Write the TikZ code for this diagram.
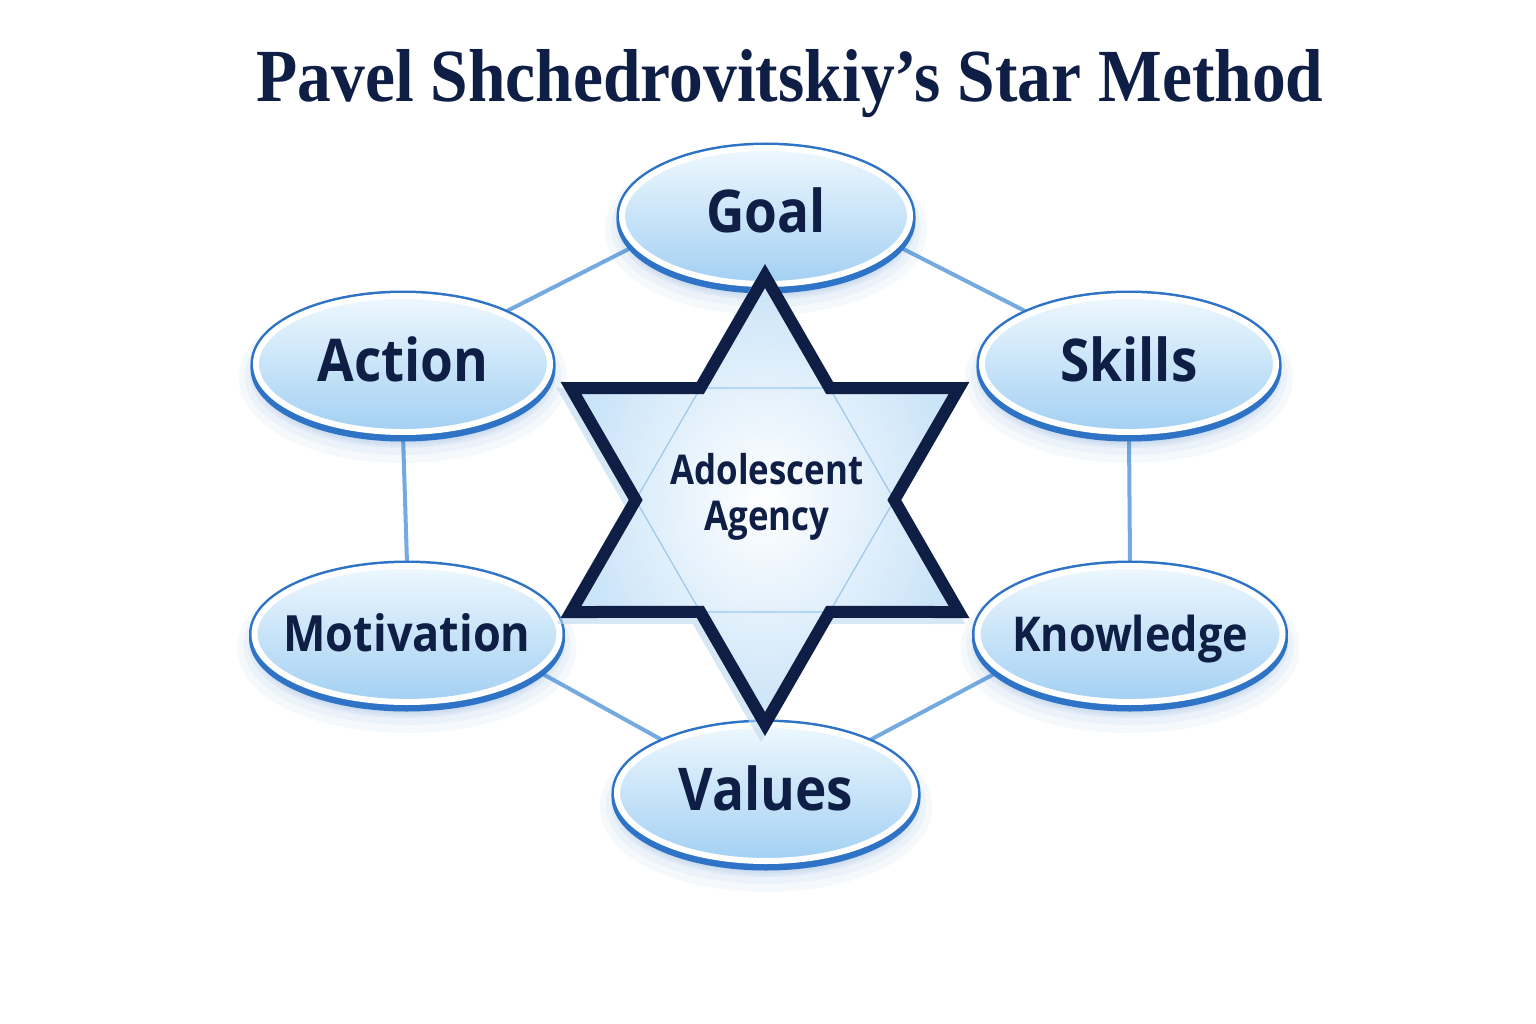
\documentclass[tikz,border=0pt]{standalone}
\usepackage{fontspec}
\setmainfont{Liberation Serif}
\newfontfamily\titlefont[FakeStretch=0.9]{Liberation Serif}
\newfontfamily\labelfont[FakeStretch=0.9]{Open Sans}
\newfontfamily\corefont[FakeStretch=0.85]{Open Sans}
\usetikzlibrary{shapes.geometric}

\definecolor{ink}{HTML}{0E1E45}
\definecolor{ringblue}{HTML}{2E73C6}
\definecolor{linkblue}{HTML}{74AADF}
\definecolor{ovaltop}{HTML}{EEF8FE}
\definecolor{ovalbottom}{HTML}{A3D0F3}
\definecolor{starfill}{HTML}{C9E3F8}
\definecolor{hexline}{HTML}{9CC8EE}
\definecolor{glow}{HTML}{BCD8F1}

\pgfdeclarelayer{back}
\pgfdeclarelayer{links}
\pgfsetlayers{back,links,main}

\tikzset{
  oval/.style={ellipse, inner sep=0pt, minimum height=136pt, text=ink,
    text height=46pt, text depth=12pt,
    font=\labelfont\bfseries\fontsize{59}{59}\selectfont,
    preaction={fill=ringblue, draw=ringblue, line width=34pt, opacity=0.04, transform canvas={yshift=-14pt}},
    preaction={fill=ringblue, draw=ringblue, line width=22pt, opacity=0.05, transform canvas={yshift=-12pt}},
    preaction={fill=ringblue, draw=ringblue, line width=12pt, opacity=0.06, transform canvas={yshift=-10pt}},
    preaction={fill=ringblue, draw=ringblue, line width=11pt, transform canvas={yshift=-4pt}},
    preaction={draw=ringblue, line width=11pt},
    draw=white, line width=6pt, top color=ovaltop, bottom color=ovalbottom},
  link/.style={draw=linkblue, line width=4pt},
  starline/.style={draw=ink, line width=12pt, line join=miter},
  title/.style={text=ink, anchor=base, font=\titlefont\bfseries\fontsize{75}{75}\selectfont},
  core/.style={text=ink, align=center, font=\corefont\bfseries\fontsize{41}{46}\selectfont}
}

\begin{document}
\begin{tikzpicture}[x=1pt,y=-1pt]
	\useasboundingbox (0,0) rectangle (1536,1024);
	\begin{pgfonlayer}{back}
	\fill[white] (0,0) rectangle (1536,1024);
	\end{pgfonlayer}
	
	\node[title] (title) at (790,102) {Pavel Shchedrovitskiy’s Star Method};
	
	% the six ovals
	\node[oval, minimum width=288pt] (goal) at (766,216) {\makebox[0pt]{Goal}};
	\node[oval, minimum width=294pt] (action) at (403,364) {\makebox[0pt]{Action}};
	\node[oval, minimum width=294pt] (skills) at (1129,364) {\makebox[0pt]{Skills}};
	\node[oval, minimum width=305pt, font=\labelfont\bfseries\fontsize{50}{50}\selectfont] (motivation) at (407,634) {\makebox[0pt]{Motivation}};
	\node[oval, minimum width=305pt, font=\labelfont\bfseries\fontsize{48}{48}\selectfont] (knowledge) at (1130,634) {\makebox[0pt]{Knowledge}};
	\node[oval, minimum width=298pt] (values) at (766,793) {\makebox[0pt]{Values}};
	
	\begin{pgfonlayer}{links}
	\draw[link] (goal.193) -- (action.27);
	\draw[link] (goal.-13) -- (skills.153);
	\draw[link] (action.south) -- (motivation.north);
	\draw[link] (skills.south) -- (knowledge.north);
	\draw[link] (motivation.-16) -- (values.153);
	\draw[link] (knowledge.196) -- (values.27);
	\end{pgfonlayer}
	
	% star
	\begin{scope}[shift={(765,500)}]
	\draw[draw=glow, line width=12pt, line join=miter, opacity=0.6, transform canvas={xshift=-4pt, yshift=-6pt}]
		(90:224) -- (120:129.3) -- (150:224) -- (180:129.3) -- (210:224) -- (240:129.3) -- (270:224) -- (300:129.3) -- (330:224) -- (0:129.3) -- (30:224) -- (60:129.3) -- cycle;
	\fill[inner color=white, outer color=starfill]
		(90:224) -- (120:129.3) -- (150:224) -- (180:129.3) -- (210:224) -- (240:129.3) -- (270:224) -- (300:129.3) -- (330:224) -- (0:129.3) -- (30:224) -- (60:129.3) -- cycle;
	\draw[hexline, line width=1.2pt] (90:224) -- (210:224) -- (330:224) -- cycle;
	\draw[hexline, line width=1.2pt] (270:224) -- (30:224) -- (150:224) -- cycle;
	\draw[starline]
		(90:224) -- (120:129.3) -- (150:224) -- (180:129.3) -- (210:224) -- (240:129.3) -- (270:224) -- (300:129.3) -- (330:224) -- (0:129.3) -- (30:224) -- (60:129.3) -- cycle;
	\end{scope}
	
	\node[core] (agency) at (767,497) {Adolescent\\Agency};
\end{tikzpicture}
\end{document}
